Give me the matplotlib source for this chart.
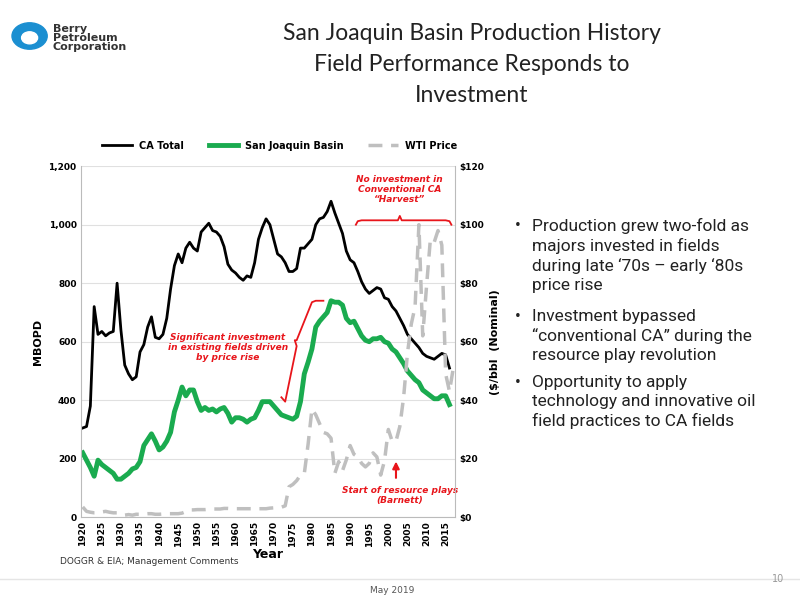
import matplotlib
matplotlib.use("Agg")
import matplotlib.pyplot as plt
from matplotlib.patches import Circle

years = list(range(1920, 2017))
ca_total = [305,310,380,720,625,635,620,630,635,800,640,520,490,470,480,565,590,650,685,615,
            610,625,680,780,860,900,870,920,940,920,910,975,990,1005,980,975,960,925,865,845,
            835,820,810,825,820,870,950,990,1020,1000,950,900,890,870,840,840,850,920,920,935,
            950,1000,1020,1025,1045,1080,1040,1005,970,910,880,870,840,805,780,765,775,785,780,750,
            745,720,705,680,655,625,610,595,580,560,550,545,540,550,560,555,510]
sj_basin = [220,195,170,140,195,180,170,160,150,130,130,140,150,165,170,190,245,265,285,260,
            230,240,260,290,360,400,445,415,435,435,395,365,375,365,370,360,370,375,355,325,
            340,340,335,325,335,340,365,395,395,395,380,365,350,345,340,335,345,395,490,530,
            575,650,670,685,700,740,735,735,725,680,665,670,645,620,605,600,610,610,615,600,
            595,575,565,545,525,500,485,470,460,435,425,415,405,405,415,415,385]
wti_years = list(range(1920, 2018))
wti_price = [3.5,2.0,1.7,1.5,1.5,1.8,2.0,1.7,1.5,1.5,1.2,0.7,0.9,0.7,1.0,1.0,1.1,1.2,1.2,1.0,
             1.0,1.1,1.2,1.2,1.2,1.2,1.4,1.9,2.5,2.5,2.6,2.6,2.6,2.7,2.8,2.8,2.8,3.0,3.0,2.9,
             2.9,2.9,2.9,2.9,2.9,2.9,2.9,2.9,2.9,3.1,3.2,3.4,3.4,3.9,10.4,11.2,12.5,14.4,14.9,25,
             37,35,32,29,28.5,27,15,19,15.9,19.6,24.5,21.5,20.6,18.4,17.2,18.4,22,20.6,14.4,19.3,
             30,26,26,31,41,56,66,72,100,62,79,95,94,98,93,49,43,51]
xtick_years = list(range(1920, 2016, 5))

red = "#e8151b"
fig = plt.figure(figsize=(8, 6), dpi=100)
fig.patch.set_facecolor("white")

# logo
fig.patches.append(Circle((0.037, 0.94), 0.022, transform=fig.transFigure, color="#1b8fd1"))
fig.patches.append(Circle((0.037, 0.937), 0.010, transform=fig.transFigure, color="white"))
fig.text(0.066, 0.937, "Berry\nPetroleum\nCorporation", fontsize=8, fontweight="bold",
         color="#333333", va="center", linespacing=0.85)

fig.text(0.59, 0.892, "San Joaquin Basin Production History\nField Performance Responds to\nInvestment",
         ha="center", va="center", fontsize=16.5, color="#222222", family="Lato", linespacing=1.6)

ax = fig.add_axes([0.101, 0.138, 0.468, 0.585])
ax2 = ax.twinx()
l1, = ax.plot(years, ca_total, color="black", lw=2, label="CA Total")
l2, = ax.plot(years, sj_basin, color="#1aab4f", lw=3.5, label="San Joaquin Basin")
l3, = ax2.plot(wti_years, wti_price, color="#bfbfbf", lw=2.5, ls=(0, (4, 2.5)), label="WTI Price")
ax.set_xlim(1919.5, 2017.5)
ax.set_ylim(0, 1200)
ax2.set_ylim(0, 120)
ax.set_yticks(range(0, 1201, 200))
ax.set_yticklabels([f"{v:,}" for v in range(0, 1201, 200)], fontsize=6.5, fontweight="bold")
ax2.set_yticks(range(0, 121, 20))
ax2.set_yticklabels([f"${v}" for v in range(0, 121, 20)], fontsize=6.5, fontweight="bold")
ax.set_xticks(xtick_years)
ax.set_xticklabels([str(y) for y in xtick_years], rotation=90, fontsize=6.5, fontweight="bold")
ax.grid(axis="y", color="#e0e0e0", lw=0.8)
ax.set_axisbelow(True)
for a in (ax, ax2):
    for s in a.spines.values():
        s.set_visible(False)
    a.tick_params(length=0, pad=3)
ax.spines["left"].set_visible(True); ax.spines["left"].set_color("#bbbbbb")
ax2.spines["right"].set_visible(True); ax2.spines["right"].set_color("#bbbbbb")
ax.spines["bottom"].set_visible(True); ax.spines["bottom"].set_color("#bbbbbb")
ax.set_ylabel("MBOPD", fontsize=8, fontweight="bold")
ax2.set_ylabel("($/bbl  (Nominal)", fontsize=8, fontweight="bold")
ax.set_xlabel("Year", fontsize=9, fontweight="bold", labelpad=1)
fig.legend(handles=[l1, l2, l3], loc="center", bbox_to_anchor=(0.35, 0.757), ncol=3,
           frameon=False, prop={"size": 7, "weight": "bold"}, handlelength=3, columnspacing=2.5)

# annotations
ax.text(1958, 580, "Significant investment\nin existing fields driven\nby price rise", color=red,
        fontsize=6.5, style="italic", fontweight="bold", ha="center", va="center")
ax.plot([1972, 1973, 1976, 1975.5, 1976, 1980, 1981, 1983], [410, 395, 585, 605, 605, 735, 740, 740],
        color=red, lw=1.3)
ax.text(2003, 1120, "No investment in\nConventional CA\n\u201cHarvest\u201d", color=red,
        fontsize=6.5, style="italic", fontweight="bold", ha="center", va="center")
ax.plot([1991.5, 1992, 1993, 2002.5, 2003, 2003.5, 2015, 2016, 2016.5], [1000, 1012, 1015, 1015, 1030, 1015, 1015, 1012, 1000],
        color=red, lw=1.3)
ax.annotate("", xy=(2002, 200), xytext=(2002, 125), arrowprops=dict(arrowstyle="-|>", color=red, lw=1.5))
ax.text(2003, 75, "Start of resource plays\n(Barnett)", color=red, fontsize=6.5, style="italic",
        fontweight="bold", ha="center", va="center")

fig.text(0.075, 0.06, "DOGGR & EIA; Management Comments", fontsize=6.5, color="#333333")
fig.text(0.49, 0.012, "May 2019", fontsize=6.5, color="#555555", ha="center")
fig.text(0.98, 0.03, "10", fontsize=7, color="#999999", ha="right")
fig.add_artist(plt.Line2D([0, 1], [0.035, 0.035], transform=fig.transFigure, color="#e5e5e5", lw=1))

bullets = ["Production grew two-fold as\nmajors invested in fields\nduring late \u201870s \u2013 early \u201880s\nprice rise",
           "Investment bypassed\n\u201cconventional CA\u201d during the\nresource play revolution",
           "Opportunity to apply\ntechnology and innovative oil\nfield practices to CA fields"]
ys = [0.637, 0.485, 0.375]
for b, y in zip(bullets, ys):
    fig.text(0.643, y, "\u2022", fontsize=12.5, color="#222222", va="top", family="Roboto")
    fig.text(0.665, y, b, fontsize=12.5, color="#222222", va="top", family="Roboto", linespacing=1.32)

fig.savefig("out.png", dpi=100)
